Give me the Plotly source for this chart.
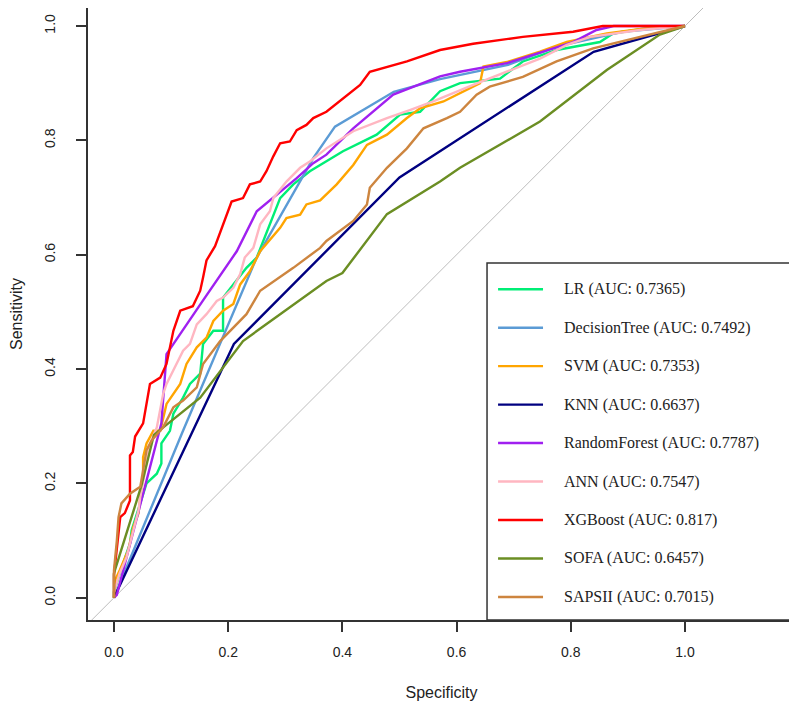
import plotly.graph_objects as go

# ROC curves (x = "Specificity" axis, y = Sensitivity)
names = ["LR", "DecisionTree", "SVM", "KNN", "RandomForest", "ANN", "XGBoost", "SOFA", "SAPSII"]
aucs = ["0.7365", "0.7492", "0.7353", "0.6637", "0.7787", "0.7547", "0.817", "0.6457", "0.7015"]
colors = ["#00EE76", "#5B9BD5", "#FFA500", "#000080", "#A020F0", "#FFB6C1", "#FF0000", "#6B8E23", "#CD853F"]

lr_x = [0, 0, 0.016, 0.028, 0.031, 0.046, 0.057, 0.075, 0.083, 0.083, 0.098, 0.104, 0.121, 0.133, 0.151,
        0.156, 0.174, 0.191, 0.191, 0.209, 0.232, 0.25, 0.273, 0.291, 0.314, 0.343, 0.401, 0.46, 0.501,
        0.536, 0.571, 0.606, 0.676, 0.716, 0.775, 0.851, 0.874, 0.933, 1]
lr_y = [0, 0.01, 0.06, 0.095, 0.118, 0.165, 0.2, 0.217, 0.235, 0.27, 0.292, 0.322, 0.35, 0.374, 0.392,
        0.444, 0.467, 0.467, 0.525, 0.548, 0.577, 0.595, 0.653, 0.699, 0.723, 0.746, 0.781, 0.81, 0.845,
        0.85, 0.886, 0.9, 0.908, 0.938, 0.958, 0.972, 0.987, 0.996, 1]

dt_x = [0, 0.12, 0.25, 0.349, 0.387, 0.43, 0.49, 0.571, 0.69, 0.775, 0.89, 1]
dt_y = [0, 0.29, 0.595, 0.769, 0.824, 0.85, 0.885, 0.907, 0.932, 0.964, 0.99, 1]

svm_x = [0, 0.002, 0.01, 0.025, 0.034, 0.043, 0.046, 0.051, 0.051, 0.057, 0.069, 0.081, 0.092, 0.116,
         0.127, 0.145, 0.162, 0.174, 0.191, 0.209, 0.221, 0.238, 0.256, 0.261, 0.291, 0.302, 0.326,
         0.337, 0.361, 0.39, 0.419, 0.443, 0.478, 0.513, 0.536, 0.577, 0.606, 0.641, 0.647, 0.688,
         0.746, 0.793, 0.863, 0.933, 1]
svm_y = [0, 0.031, 0.048, 0.083, 0.124, 0.148, 0.176, 0.211, 0.246, 0.27, 0.292, 0.292, 0.339, 0.374,
         0.409, 0.438, 0.455, 0.484, 0.502, 0.514, 0.548, 0.571, 0.606, 0.612, 0.647, 0.664, 0.67,
         0.688, 0.695, 0.723, 0.757, 0.792, 0.81, 0.839, 0.856, 0.868, 0.882, 0.9, 0.929, 0.937,
         0.955, 0.972, 0.987, 0.996, 1]

knn_x = [0, 0.21, 0.5, 0.571, 0.7, 0.84, 1]
knn_y = [0, 0.444, 0.735, 0.781, 0.865, 0.955, 1]

rf_x = [0, 0.005, 0.083, 0.092, 0.156, 0.215, 0.25, 0.285, 0.32, 0.349, 0.372, 0.419, 0.489, 0.571,
        0.606, 0.688, 0.804, 0.845, 0.875, 1]
rf_y = [0, 0.005, 0.305, 0.426, 0.52, 0.606, 0.676, 0.705, 0.734, 0.76, 0.775, 0.821, 0.88, 0.912,
        0.92, 0.935, 0.972, 0.993, 1, 1]

ann_x = [0, 0, 0.01, 0.022, 0.034, 0.043, 0.046, 0.057, 0.063, 0.075, 0.086, 0.092, 0.11, 0.121, 0.133,
         0.145, 0.162, 0.18, 0.191, 0.209, 0.221, 0.229, 0.244, 0.256, 0.273, 0.279, 0.302, 0.326,
         0.343, 0.372, 0.419, 0.478, 0.518, 0.559, 0.629, 0.688, 0.746, 0.793, 0.834, 0.921, 1]
ann_y = [0, 0.01, 0.043, 0.071, 0.118, 0.153, 0.176, 0.234, 0.269, 0.298, 0.356, 0.374, 0.409, 0.432,
         0.444, 0.478, 0.496, 0.519, 0.525, 0.542, 0.566, 0.595, 0.612, 0.653, 0.676, 0.699, 0.728,
         0.752, 0.763, 0.786, 0.816, 0.839, 0.853, 0.868, 0.897, 0.92, 0.943, 0.967, 0.981, 0.993, 1]

xgb_x = [0, 0, 0.011, 0.019, 0.028, 0.028, 0.033, 0.037, 0.051, 0.063, 0.081, 0.092, 0.104, 0.116,
         0.138, 0.151, 0.156, 0.162, 0.177, 0.191, 0.206, 0.226, 0.238, 0.256, 0.267, 0.279, 0.291,
         0.308, 0.32, 0.337, 0.349, 0.372, 0.431, 0.448, 0.513, 0.571, 0.629, 0.716, 0.804, 0.856, 1]
xgb_y = [0, 0.04, 0.141, 0.148, 0.17, 0.249, 0.255, 0.282, 0.305, 0.374, 0.385, 0.409, 0.467, 0.502,
         0.51, 0.537, 0.56, 0.59, 0.615, 0.653, 0.693, 0.699, 0.723, 0.728, 0.746, 0.772, 0.795,
         0.798, 0.818, 0.827, 0.839, 0.85, 0.897, 0.92, 0.938, 0.958, 0.969, 0.981, 0.99, 1, 1]

sofa_x = [0, 0, 0.048, 0.07, 0.151, 0.191, 0.226, 0.291, 0.372, 0.4, 0.478, 0.571, 0.606, 0.746,
          0.863, 0.956, 1]
sofa_y = [0, 0.043, 0.196, 0.285, 0.35, 0.403, 0.449, 0.496, 0.554, 0.568, 0.671, 0.728, 0.752,
          0.833, 0.923, 0.985, 1]

saps_x = [0, 0, 0.005, 0.008, 0.013, 0.028, 0.046, 0.051, 0.057, 0.066, 0.086, 0.104, 0.121, 0.145,
          0.156, 0.186, 0.209, 0.232, 0.256, 0.285, 0.314, 0.361, 0.372, 0.419, 0.443, 0.448, 0.478,
          0.513, 0.542, 0.583, 0.606, 0.635, 0.658, 0.716, 0.775, 0.839, 0.898, 0.95, 1]
saps_y = [0, 0.048, 0.1, 0.141, 0.165, 0.182, 0.194, 0.223, 0.258, 0.275, 0.298, 0.333, 0.345, 0.368,
          0.409, 0.449, 0.473, 0.496, 0.537, 0.557, 0.577, 0.612, 0.624, 0.659, 0.688, 0.717, 0.752,
          0.786, 0.821, 0.839, 0.85, 0.88, 0.894, 0.911, 0.938, 0.961, 0.975, 0.987, 1]

curves = [(lr_x, lr_y), (dt_x, dt_y), (svm_x, svm_y), (knn_x, knn_y), (rf_x, rf_y),
          (ann_x, ann_y), (xgb_x, xgb_y), (sofa_x, sofa_y), (saps_x, saps_y)]

diag = [-0.1, 1.1]
ticks = [0, 0.2, 0.4, 0.6, 0.8, 1.0]
tick_labels = ["0.0", "0.2", "0.4", "0.6", "0.8", "1.0"]

fig = go.Figure()
fig.add_trace(go.Scatter(x=diag, y=diag, mode="lines", line=dict(color="#BDBDBD", width=1),
                         showlegend=False, hoverinfo="skip"))
for i, (xs, ys) in enumerate(curves):
    fig.add_trace(go.Scatter(x=xs, y=ys, mode="lines", name=f"{names[i]} (AUC: {aucs[i]})",
                             showlegend=False, line=dict(color=colors[i], width=2.4)))

axis_font = dict(family="Liberation Sans, Arial", size=14, color="#222")
title_font = dict(family="Liberation Sans, Arial", size=16, color="#222")
common = dict(tickvals=ticks, ticktext=tick_labels, ticks="outside", ticklen=10, tickcolor="#333",
              tickwidth=1.5, showline=True, mirror=True, linecolor="#333", linewidth=1.5,
              showgrid=False, zeroline=False, tickfont=axis_font, automargin=False)
fig.update_xaxes(range=[-0.0455, 1.1926], ticklabelstandoff=8,
                 title=dict(text="Specificity", font=title_font, standoff=28), **common)
fig.update_yaxes(range=[-0.0389, 1.0315], tickangle=-90, ticklabelstandoff=16,
                 title=dict(text="Sensitivity", font=title_font, standoff=27), **common)

# legend box in the lower-right corner, drawn R-style
fig.add_shape(type="rect", xref="paper", yref="paper", x0=0.5644, x1=1.0, y0=0.0, y1=0.5833,
              line=dict(color="#333", width=1.5), fillcolor="white", layer="below")
top_y, step = 0.5405, 0.06285
for i in range(len(names)):
    yy = top_y - i * step
    fig.add_shape(type="line", xref="paper", yref="paper", x0=0.580, x1=0.6436, y0=yy, y1=yy,
                  line=dict(color=colors[i], width=2.4))
    fig.add_annotation(xref="paper", yref="paper", x=0.6705, y=yy, xanchor="left", yanchor="middle",
                       text=f"{names[i]} (AUC: {aucs[i]})", showarrow=False,
                       font=dict(family="Liberation Serif, Times New Roman", size=16, color="#222"))

fig.update_layout(
    width=789, height=701,
    margin=dict(l=80, r=2, t=0, b=89),
    plot_bgcolor="white", paper_bgcolor="white",
    showlegend=False,
)

fig.write_html("out.html")
